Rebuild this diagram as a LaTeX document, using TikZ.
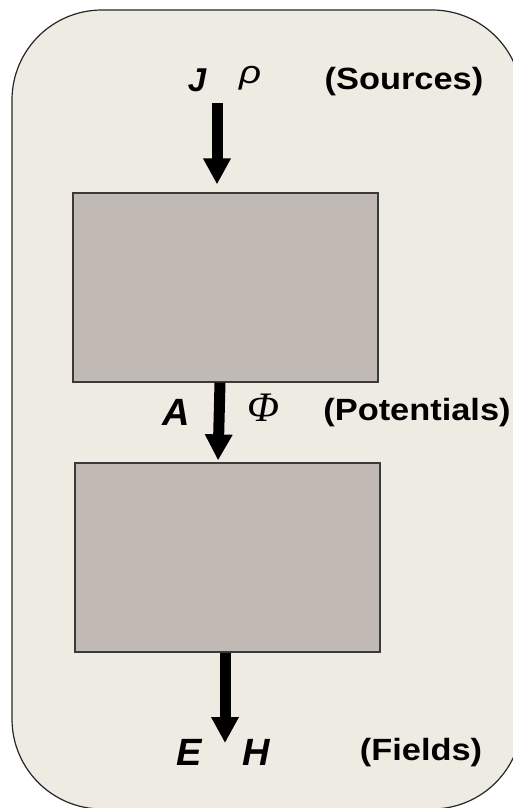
\documentclass[tikz,border=0pt]{standalone}
\usepackage{fontspec}
\setmainfont{Liberation Sans}
\newfontfamily\serifit{Liberation Serif}
\usetikzlibrary{arrows.meta}
\definecolor{bgc}{HTML}{EEECE2}
\definecolor{boxc}{HTML}{C0B9B4}
\definecolor{edgec}{HTML}{3A3A3A}
\tikzset{
  box/.style={draw=edgec, line width=1.2pt, fill=boxc, minimum width=305pt, minimum height=189pt, inner sep=0pt},
  bigarrow/.style={line width=11pt, -{Triangle[width=26pt,length=26pt]}},
  lbl/.style={font=\bfseries\fontsize{30.7}{32}\selectfont, inner sep=0pt, anchor=base},
  sym/.style={inner sep=0pt, anchor=base}
}
\begin{document}
\begin{tikzpicture}[x=1pt,y=-1pt]
\useasboundingbox (0,0) rectangle (513,808);
\clip (0,0) rectangle (513,808);
\draw[fill=bgc, line width=1.2pt, draw=black!85, rounded corners=90pt] (12,10) rectangle (522,809);
\node[box] (b1) at (225.5,287.5) {};
\node[box] (b2) at (227.5,557.5) {};
\coordinate (src) at (217,103);
\coordinate (out) at (225,743);
\draw[bigarrow, shorten >=8pt] (src) -- ([xshift=-8.5pt]b1.north);
\draw[bigarrow, shorten >=2pt] ([xshift=-5.5pt]b1.south) -- ([xshift=-9.5pt]b2.north);
\draw[bigarrow] ([xshift=-2.5pt]b2.south) -- (out);
% labels
\node[sym, font=\bfseries\itshape\fontsize{33}{33}\selectfont] (J) at (197,91) {J};
\node[sym, font=\itshape\fontsize{32}{32}\selectfont] (rho) at (250,84) {\scalebox{1.2}[1]{ρ}};
\node[lbl] (srcl) at (404,89) {\scalebox{1.12}[1]{(Sources)}};
\node[sym, font=\bfseries\itshape\fontsize{38}{38}\selectfont] (A) at (176,425) {A};
\node[sym, font=\serifit\itshape\fontsize{42}{42}\selectfont] (Phi) at (263,421) {Φ};
\node[lbl] (potl) at (417,420) {\scalebox{1.12}[1]{(Potentials)}};
\node[sym, font=\bfseries\itshape\fontsize{38}{38}\selectfont] (E) at (189,765) {E};
\node[sym, font=\bfseries\itshape\fontsize{38}{38}\selectfont] (H) at (256,765) {H};
\node[lbl] (fldl) at (421,760) {\scalebox{1.12}[1]{(Fields)}};
\end{tikzpicture}
\end{document}
